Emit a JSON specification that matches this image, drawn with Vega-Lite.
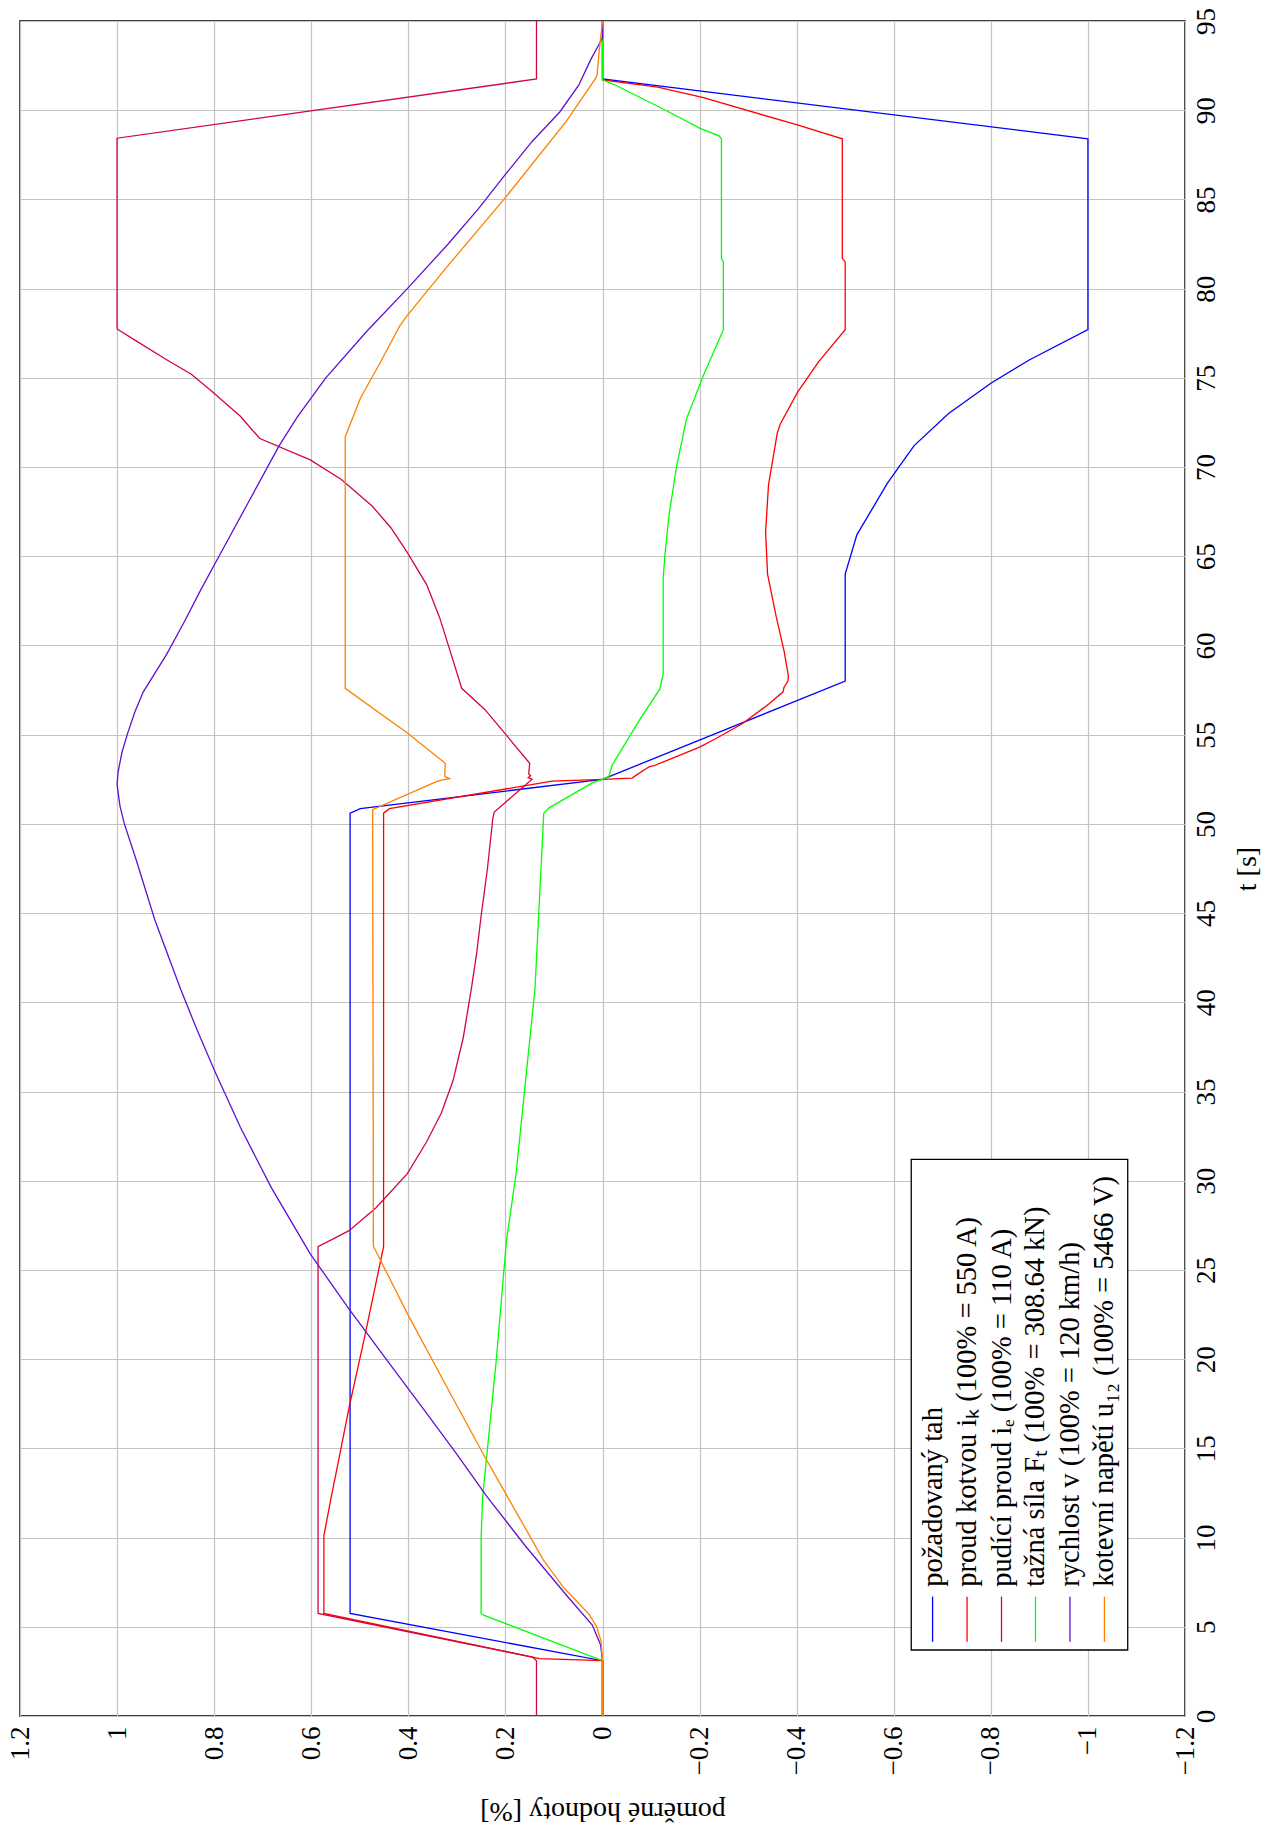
{
  "$schema": "https://vega.github.io/schema/vega-lite/v6.json",
  "width": 1165,
  "height": 1695,
  "autosize": {"type": "none"},
  "padding": {"left": 20, "top": 21, "right": 82, "bottom": 115},
  "background": "white",
  "config": {
    "font": "Liberation Serif",
    "view": {"stroke": "#000000", "strokeWidth": 1.5},
    "axis": {
      "grid": true, "gridColor": "#c4c4c4", "gridWidth": 1.2,
      "domain": false, "ticks": false,
      "labelFontSize": 27, "titleFontSize": 28,
      "labelColor": "#000000", "titleColor": "#000000",
      "labelFont": "Liberation Serif", "titleFont": "Liberation Serif",
      "titleFontWeight": "normal"
    }
  },
  "datasets": {
    "series": [
      {"s":"tah","t":0,"v":0},{"s":"tah","t":3.1,"v":0},{"s":"tah","t":5.75,"v":0.52},{"s":"tah","t":50.6,"v":0.52},{"s":"tah","t":50.85,"v":0.499},{"s":"tah","t":52.5,"v":0},{"s":"tah","t":58.0,"v":-0.5},{"s":"tah","t":64.0,"v":-0.5},{"s":"tah","t":66.2,"v":-0.524},{"s":"tah","t":69.1,"v":-0.587},{"s":"tah","t":71.2,"v":-0.642},{"s":"tah","t":73.0,"v":-0.713},{"s":"tah","t":74.7,"v":-0.8},{"s":"tah","t":76.0,"v":-0.879},{"s":"tah","t":77.7,"v":-1.0},{"s":"tah","t":88.4,"v":-1.0},{"s":"tah","t":91.75,"v":0},{"s":"tah","t":95,"v":0},

      {"s":"ik","t":0,"v":0},{"s":"ik","t":3.1,"v":0},{"s":"ik","t":3.22,"v":0.13},{"s":"ik","t":5.75,"v":0.574},{"s":"ik","t":10.1,"v":0.574},{"s":"ik","t":12.25,"v":0.559},{"s":"ik","t":14.0,"v":0.546},{"s":"ik","t":17.3,"v":0.522},{"s":"ik","t":21.25,"v":0.49},{"s":"ik","t":26.3,"v":0.451},{"s":"ik","t":50.6,"v":0.451},{"s":"ik","t":50.85,"v":0.439},{"s":"ik","t":52.4,"v":0.104},{"s":"ik","t":52.5,"v":0},{"s":"ik","t":52.57,"v":-0.061},{"s":"ik","t":52.76,"v":-0.071},{"s":"ik","t":53.2,"v":-0.096},{"s":"ik","t":53.26,"v":-0.106},{"s":"ik","t":54.3,"v":-0.2},{"s":"ik","t":54.76,"v":-0.232},{"s":"ik","t":55.6,"v":-0.287},{"s":"ik","t":56.7,"v":-0.342},{"s":"ik","t":57.4,"v":-0.372},{"s":"ik","t":57.66,"v":-0.374},{"s":"ik","t":58.0,"v":-0.382},{"s":"ik","t":58.3,"v":-0.383},{"s":"ik","t":59.7,"v":-0.374},{"s":"ik","t":61.6,"v":-0.358},{"s":"ik","t":64.0,"v":-0.34},{"s":"ik","t":66.35,"v":-0.336},{"s":"ik","t":69.0,"v":-0.342},{"s":"ik","t":71.9,"v":-0.36},{"s":"ik","t":72.4,"v":-0.366},{"s":"ik","t":74.2,"v":-0.402},{"s":"ik","t":75.9,"v":-0.445},{"s":"ik","t":77.7,"v":-0.5},{"s":"ik","t":81.5,"v":-0.5},{"s":"ik","t":81.7,"v":-0.494},{"s":"ik","t":88.4,"v":-0.494},{"s":"ik","t":89.2,"v":-0.398},{"s":"ik","t":90.7,"v":-0.208},{"s":"ik","t":91.3,"v":-0.114},{"s":"ik","t":91.7,"v":0},{"s":"ik","t":95,"v":0},

      {"s":"ie","t":0,"v":0.136},{"s":"ie","t":3.1,"v":0.136},{"s":"ie","t":3.3,"v":0.144},{"s":"ie","t":5.75,"v":0.586},{"s":"ie","t":26.3,"v":0.586},{"s":"ie","t":27.2,"v":0.522},{"s":"ie","t":28.5,"v":0.466},{"s":"ie","t":30.4,"v":0.402},{"s":"ie","t":32.2,"v":0.362},{"s":"ie","t":33.8,"v":0.332},{"s":"ie","t":35.6,"v":0.308},{"s":"ie","t":38.0,"v":0.287},{"s":"ie","t":40.8,"v":0.27},{"s":"ie","t":42.8,"v":0.259},{"s":"ie","t":44.85,"v":0.25},{"s":"ie","t":47.5,"v":0.237},{"s":"ie","t":50.3,"v":0.226},{"s":"ie","t":50.66,"v":0.223},{"s":"ie","t":52.5,"v":0.145},{"s":"ie","t":52.6,"v":0.153},{"s":"ie","t":52.7,"v":0.148},{"s":"ie","t":52.8,"v":0.152},{"s":"ie","t":53.4,"v":0.15},{"s":"ie","t":55.1,"v":0.202},{"s":"ie","t":56.4,"v":0.242},{"s":"ie","t":57.6,"v":0.29},{"s":"ie","t":59.7,"v":0.314},{"s":"ie","t":61.6,"v":0.336},{"s":"ie","t":63.4,"v":0.362},{"s":"ie","t":65.2,"v":0.402},{"s":"ie","t":66.6,"v":0.436},{"s":"ie","t":67.8,"v":0.474},{"s":"ie","t":69.3,"v":0.538},{"s":"ie","t":70.4,"v":0.602},{"s":"ie","t":71.6,"v":0.706},{"s":"ie","t":72.85,"v":0.746},{"s":"ie","t":74.25,"v":0.805},{"s":"ie","t":75.2,"v":0.847},{"s":"ie","t":76.0,"v":0.897},{"s":"ie","t":77.14,"v":0.965},{"s":"ie","t":77.74,"v":1.0},{"s":"ie","t":88.43,"v":1.0},{"s":"ie","t":91.75,"v":0.136},{"s":"ie","t":95,"v":0.136},

      {"s":"Ft","t":0,"v":0},{"s":"Ft","t":3.1,"v":0},{"s":"Ft","t":5.65,"v":0.245},{"s":"Ft","t":5.75,"v":0.25},{"s":"Ft","t":10.05,"v":0.25},{"s":"Ft","t":12.25,"v":0.247},{"s":"Ft","t":19.9,"v":0.219},{"s":"Ft","t":26.6,"v":0.198},{"s":"Ft","t":30.4,"v":0.178},{"s":"Ft","t":40.8,"v":0.139},{"s":"Ft","t":50.6,"v":0.121},{"s":"Ft","t":50.9,"v":0.11},{"s":"Ft","t":52.3,"v":0.021},{"s":"Ft","t":52.5,"v":0},{"s":"Ft","t":52.66,"v":-0.013},{"s":"Ft","t":53.3,"v":-0.02},{"s":"Ft","t":55.9,"v":-0.078},{"s":"Ft","t":57.55,"v":-0.118},{"s":"Ft","t":58.4,"v":-0.125},{"s":"Ft","t":63.8,"v":-0.125},{"s":"Ft","t":65.2,"v":-0.129},{"s":"Ft","t":67.3,"v":-0.137},{"s":"Ft","t":70.1,"v":-0.153},{"s":"Ft","t":72.7,"v":-0.173},{"s":"Ft","t":75.15,"v":-0.208},{"s":"Ft","t":77.7,"v":-0.249},{"s":"Ft","t":81.5,"v":-0.249},{"s":"Ft","t":81.7,"v":-0.245},{"s":"Ft","t":88.4,"v":-0.245},{"s":"Ft","t":88.56,"v":-0.24},{"s":"Ft","t":89.0,"v":-0.2},{"s":"Ft","t":90.0,"v":-0.13},{"s":"Ft","t":91.4,"v":-0.027},{"s":"Ft","t":91.7,"v":0},{"s":"Ft","t":95,"v":0},

      {"s":"v","t":0,"v":0},{"s":"v","t":3.1,"v":0},{"s":"v","t":4.0,"v":0.004},{"s":"v","t":5.1,"v":0.021},{"s":"v","t":6.7,"v":0.072},{"s":"v","t":9.5,"v":0.158},{"s":"v","t":12.3,"v":0.238},{"s":"v","t":14.7,"v":0.301},{"s":"v","t":17.1,"v":0.366},{"s":"v","t":19.9,"v":0.443},{"s":"v","t":22.8,"v":0.522},{"s":"v","t":25.9,"v":0.602},{"s":"v","t":29.6,"v":0.682},{"s":"v","t":33.0,"v":0.746},{"s":"v","t":36.1,"v":0.798},{"s":"v","t":38.5,"v":0.836},{"s":"v","t":40.8,"v":0.87},{"s":"v","t":44.6,"v":0.922},{"s":"v","t":48.1,"v":0.962},{"s":"v","t":50.0,"v":0.985},{"s":"v","t":51.0,"v":0.994},{"s":"v","t":52.2,"v":1.0},{"s":"v","t":52.9,"v":0.998},{"s":"v","t":54.0,"v":0.99},{"s":"v","t":55.1,"v":0.978},{"s":"v","t":56.3,"v":0.963},{"s":"v","t":57.4,"v":0.946},{"s":"v","t":59.5,"v":0.898},{"s":"v","t":61.3,"v":0.862},{"s":"v","t":63.2,"v":0.826},{"s":"v","t":65.0,"v":0.79},{"s":"v","t":68.0,"v":0.73},{"s":"v","t":71.2,"v":0.666},{"s":"v","t":72.8,"v":0.629},{"s":"v","t":75.0,"v":0.57},{"s":"v","t":77.6,"v":0.486},{"s":"v","t":80.0,"v":0.402},{"s":"v","t":82.5,"v":0.318},{"s":"v","t":84.5,"v":0.255},{"s":"v","t":86.4,"v":0.2},{"s":"v","t":88.25,"v":0.145},{"s":"v","t":89.9,"v":0.088},{"s":"v","t":91.4,"v":0.049},{"s":"v","t":92.85,"v":0.024},{"s":"v","t":94.05,"v":0},{"s":"v","t":95,"v":0},

      {"s":"u","t":0,"v":0},{"s":"u","t":3.1,"v":0},{"s":"u","t":4.2,"v":0.003},{"s":"u","t":5.0,"v":0.012},{"s":"u","t":5.7,"v":0.0275},{"s":"u","t":7.2,"v":0.08},{"s":"u","t":8.75,"v":0.122},{"s":"u","t":12.25,"v":0.195},{"s":"u","t":14.5,"v":0.242},{"s":"u","t":18.1,"v":0.314},{"s":"u","t":22.55,"v":0.402},{"s":"u","t":26.33,"v":0.472},{"s":"u","t":50.8,"v":0.4735},{"s":"u","t":52.38,"v":0.341},{"s":"u","t":52.48,"v":0.327},{"s":"u","t":52.53,"v":0.315},{"s":"u","t":52.66,"v":0.325},{"s":"u","t":53.4,"v":0.324},{"s":"u","t":55.1,"v":0.402},{"s":"u","t":57.6,"v":0.53},{"s":"u","t":71.7,"v":0.53},{"s":"u","t":73.9,"v":0.498},{"s":"u","t":75.75,"v":0.46},{"s":"u","t":77.9,"v":0.418},{"s":"u","t":78.5,"v":0.402},{"s":"u","t":81.3,"v":0.318},{"s":"u","t":85.1,"v":0.2},{"s":"u","t":89.4,"v":0.074},{"s":"u","t":91.75,"v":0.015},{"s":"u","t":92.0,"v":0.011},{"s":"u","t":93.3,"v":0.007},{"s":"u","t":95,"v":0}
    ],
    "legendbox": [{"v1": -0.636, "v2": -1.082, "t1": 3.7, "t2": 31.2}],
    "legend": [
      {"s":"tah","label":"požadovaný tah","v":-0.680,"t0":4.16,"t1":6.69,"tt":7.25},
      {"s":"ik","label":"proud kotvou iₖ (100% = 550 A)","v":-0.751,"t0":4.16,"t1":6.69,"tt":7.25},
      {"s":"ie","label":"pudící proud iₑ (100% = 110 A)","v":-0.822,"t0":4.16,"t1":6.69,"tt":7.25},
      {"s":"Ft","label":"tažná síla Fₜ (100% = 308.64 kN)","v":-0.892,"t0":4.16,"t1":6.69,"tt":7.25},
      {"s":"v","label":"rychlost v (100% = 120 km/h)","v":-0.963,"t0":4.16,"t1":6.69,"tt":7.25},
      {"s":"u","label":"kotevní napětí u₁₂ (100% = 5466 V)","v":-1.034,"t0":4.16,"t1":6.69,"tt":7.25}
    ]
  },
  "layer": [
    {
      "data": {"name": "series"},
      "mark": {"type": "line", "strokeWidth": 1.3, "clip": true},
      "encoding": {
        "x": {"field": "v", "type": "quantitative",
              "scale": {"domain": [-1.2, 1.2], "reverse": true, "nice": false, "zero": false},
              "axis": {"orient": "bottom", "values": [-1.2,-1,-0.8,-0.6,-0.4,-0.2,0,0.2,0.4,0.6,0.8,1,1.2],
                       "format": ".1~f", "labelAngle": 270, "labelAlign": "right", "labelBaseline": "middle",
                       "labelPadding": 10, "title": "poměrné hodnoty [%]", "titleAngle": 180, "titlePadding": 22,
                       "titleBaseline": "bottom"}},
        "y": {"field": "t", "type": "quantitative",
              "scale": {"domain": [0, 95], "nice": false, "zero": false},
              "axis": {"orient": "right", "values": [0,5,10,15,20,25,30,35,40,45,50,55,60,65,70,75,80,85,90,95],
                       "labelAngle": 270, "labelAlign": "center", "labelBaseline": "top",
                       "labelPadding": 8, "title": "t [s]", "titleAngle": 270, "titlePadding": 42}},
        "color": {"field": "s", "type": "nominal",
                  "scale": {"domain": ["tah","ik","ie","Ft","v","u"],
                            "range": ["#0000ff","#ff0000","#d1083c","#00ff00","#6010d0","#ff8000"]},
                  "legend": null},
        "order": {"field": "t", "type": "quantitative"}
      }
    },
    {
      "data": {"name": "legendbox"},
      "mark": {"type": "rect", "fill": "white", "stroke": "black", "strokeWidth": 1.3},
      "encoding": {
        "x": {"field": "v1", "type": "quantitative", "title": "poměrné hodnoty [%]"},
        "x2": {"field": "v2"},
        "y": {"field": "t1", "type": "quantitative", "title": "t [s]"},
        "y2": {"field": "t2"}
      }
    },
    {
      "data": {"name": "legend"},
      "mark": {"type": "rule", "strokeWidth": 1.3},
      "encoding": {
        "x": {"field": "v", "type": "quantitative", "title": "poměrné hodnoty [%]"},
        "y": {"field": "t0", "type": "quantitative", "title": "t [s]"},
        "y2": {"field": "t1"},
        "color": {"field": "s", "type": "nominal", "legend": null}
      }
    },
    {
      "data": {"name": "legend"},
      "mark": {"type": "text", "angle": 270, "align": "left", "baseline": "middle", "fontSize": 28.5, "font": "Liberation Serif", "color": "#000000"},
      "encoding": {
        "x": {"field": "v", "type": "quantitative", "title": "poměrné hodnoty [%]"},
        "y": {"field": "tt", "type": "quantitative", "title": "t [s]"},
        "text": {"field": "label"}
      }
    }
  ]
}
